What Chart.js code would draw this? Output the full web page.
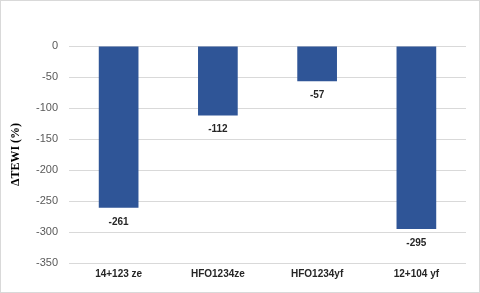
<!DOCTYPE html>
<html>
<head>
<meta charset="utf-8">
<script src="https://cdn.jsdelivr.net/npm/chart.js@4.4.0/dist/chart.umd.min.js"></script>
<style>
  html, body { margin: 0; padding: 0; background: #fff; }
  #wrap { width: 480px; height: 293px; position: relative; }
</style>
</head>
<body>
<div id="wrap"><canvas id="tewi-chart" width="480" height="293"></canvas></div>
<script>
    'use strict';

    const categories = ['14+123 ze', 'HFO1234ze', 'HFO1234yf', '12+104 yf'];
    const tewiValues = [-261, -112, -57, -295];
    const yMin = -350;
    const yMax = 0;
    const yStep = 50;

    // value labels under each bar, plus the thin frame round the chart
    const barLabels = {
        id: 'barLabels',
        afterDatasetsDraw(chart) {
            const ctx = chart.ctx;
            const meta = chart.getDatasetMeta(0);
            const yScale = chart.scales.y;
            ctx.save();
            ctx.font = 'bold 10px "Liberation Sans", Arial, sans-serif';
            ctx.fillStyle = '#262626';
            ctx.textAlign = 'center';
            ctx.textBaseline = 'middle';
            meta.data.forEach((bar, i) => {
                const v = tewiValues[i];
                ctx.fillText(String(v), bar.x, yScale.getPixelForValue(v) + 14);
            });
            ctx.restore();
        },
        afterDraw(chart) {
            const ctx = chart.ctx;
            ctx.save();
            ctx.strokeStyle = '#d9d9d9';
            ctx.lineWidth = 1;
            ctx.strokeRect(0.5, 0.5, chart.width - 1, chart.height - 1);
            ctx.restore();
        }
    };

    new Chart(document.getElementById('tewi-chart'), {
        type: 'bar',
        data: {
            labels: categories,
            datasets: [{
                data: tewiValues,
                backgroundColor: '#2f5597',
                borderWidth: 0,
                categoryPercentage: 1,
                barPercentage: 0.4
            }]
        },
        options: {
            responsive: false,
            animation: false,
            layout: { padding: { top: 46, right: 14, left: 0, bottom: 0 } },
            plugins: {
                legend: { display: false },
                tooltip: { enabled: false }
            },
            scales: {
                x: {
                    grid: { display: false, drawTicks: false },
                    border: { display: false },
                    ticks: {
                        color: '#262626',
                        padding: 5,
                        font: { family: '"Liberation Sans", Arial, sans-serif', size: 10, weight: 'bold' }
                    },
                    afterFit(scale) { scale.height = 30; }
                },
                y: {
                    min: yMin,
                    max: yMax,
                    grid: { color: '#d9d9d9', lineWidth: 1, drawTicks: false },
                    border: { display: false },
                    ticks: {
                        stepSize: yStep,
                        color: '#595959',
                        padding: 11,
                        font: { family: '"Liberation Sans", Arial, sans-serif', size: 11 }
                    },
                    title: {
                        display: true,
                        text: 'ΔTEWI (%)',
                        color: '#000',
                        padding: { top: 9, bottom: 0 },
                        font: { family: '"Liberation Serif", "Times New Roman", serif', size: 12, weight: 'bold' }
                    },
                    afterFit(scale) { scale.width = 69; }
                }
            }
        },
        plugins: [barLabels]
    });
</script>
</body>
</html>
